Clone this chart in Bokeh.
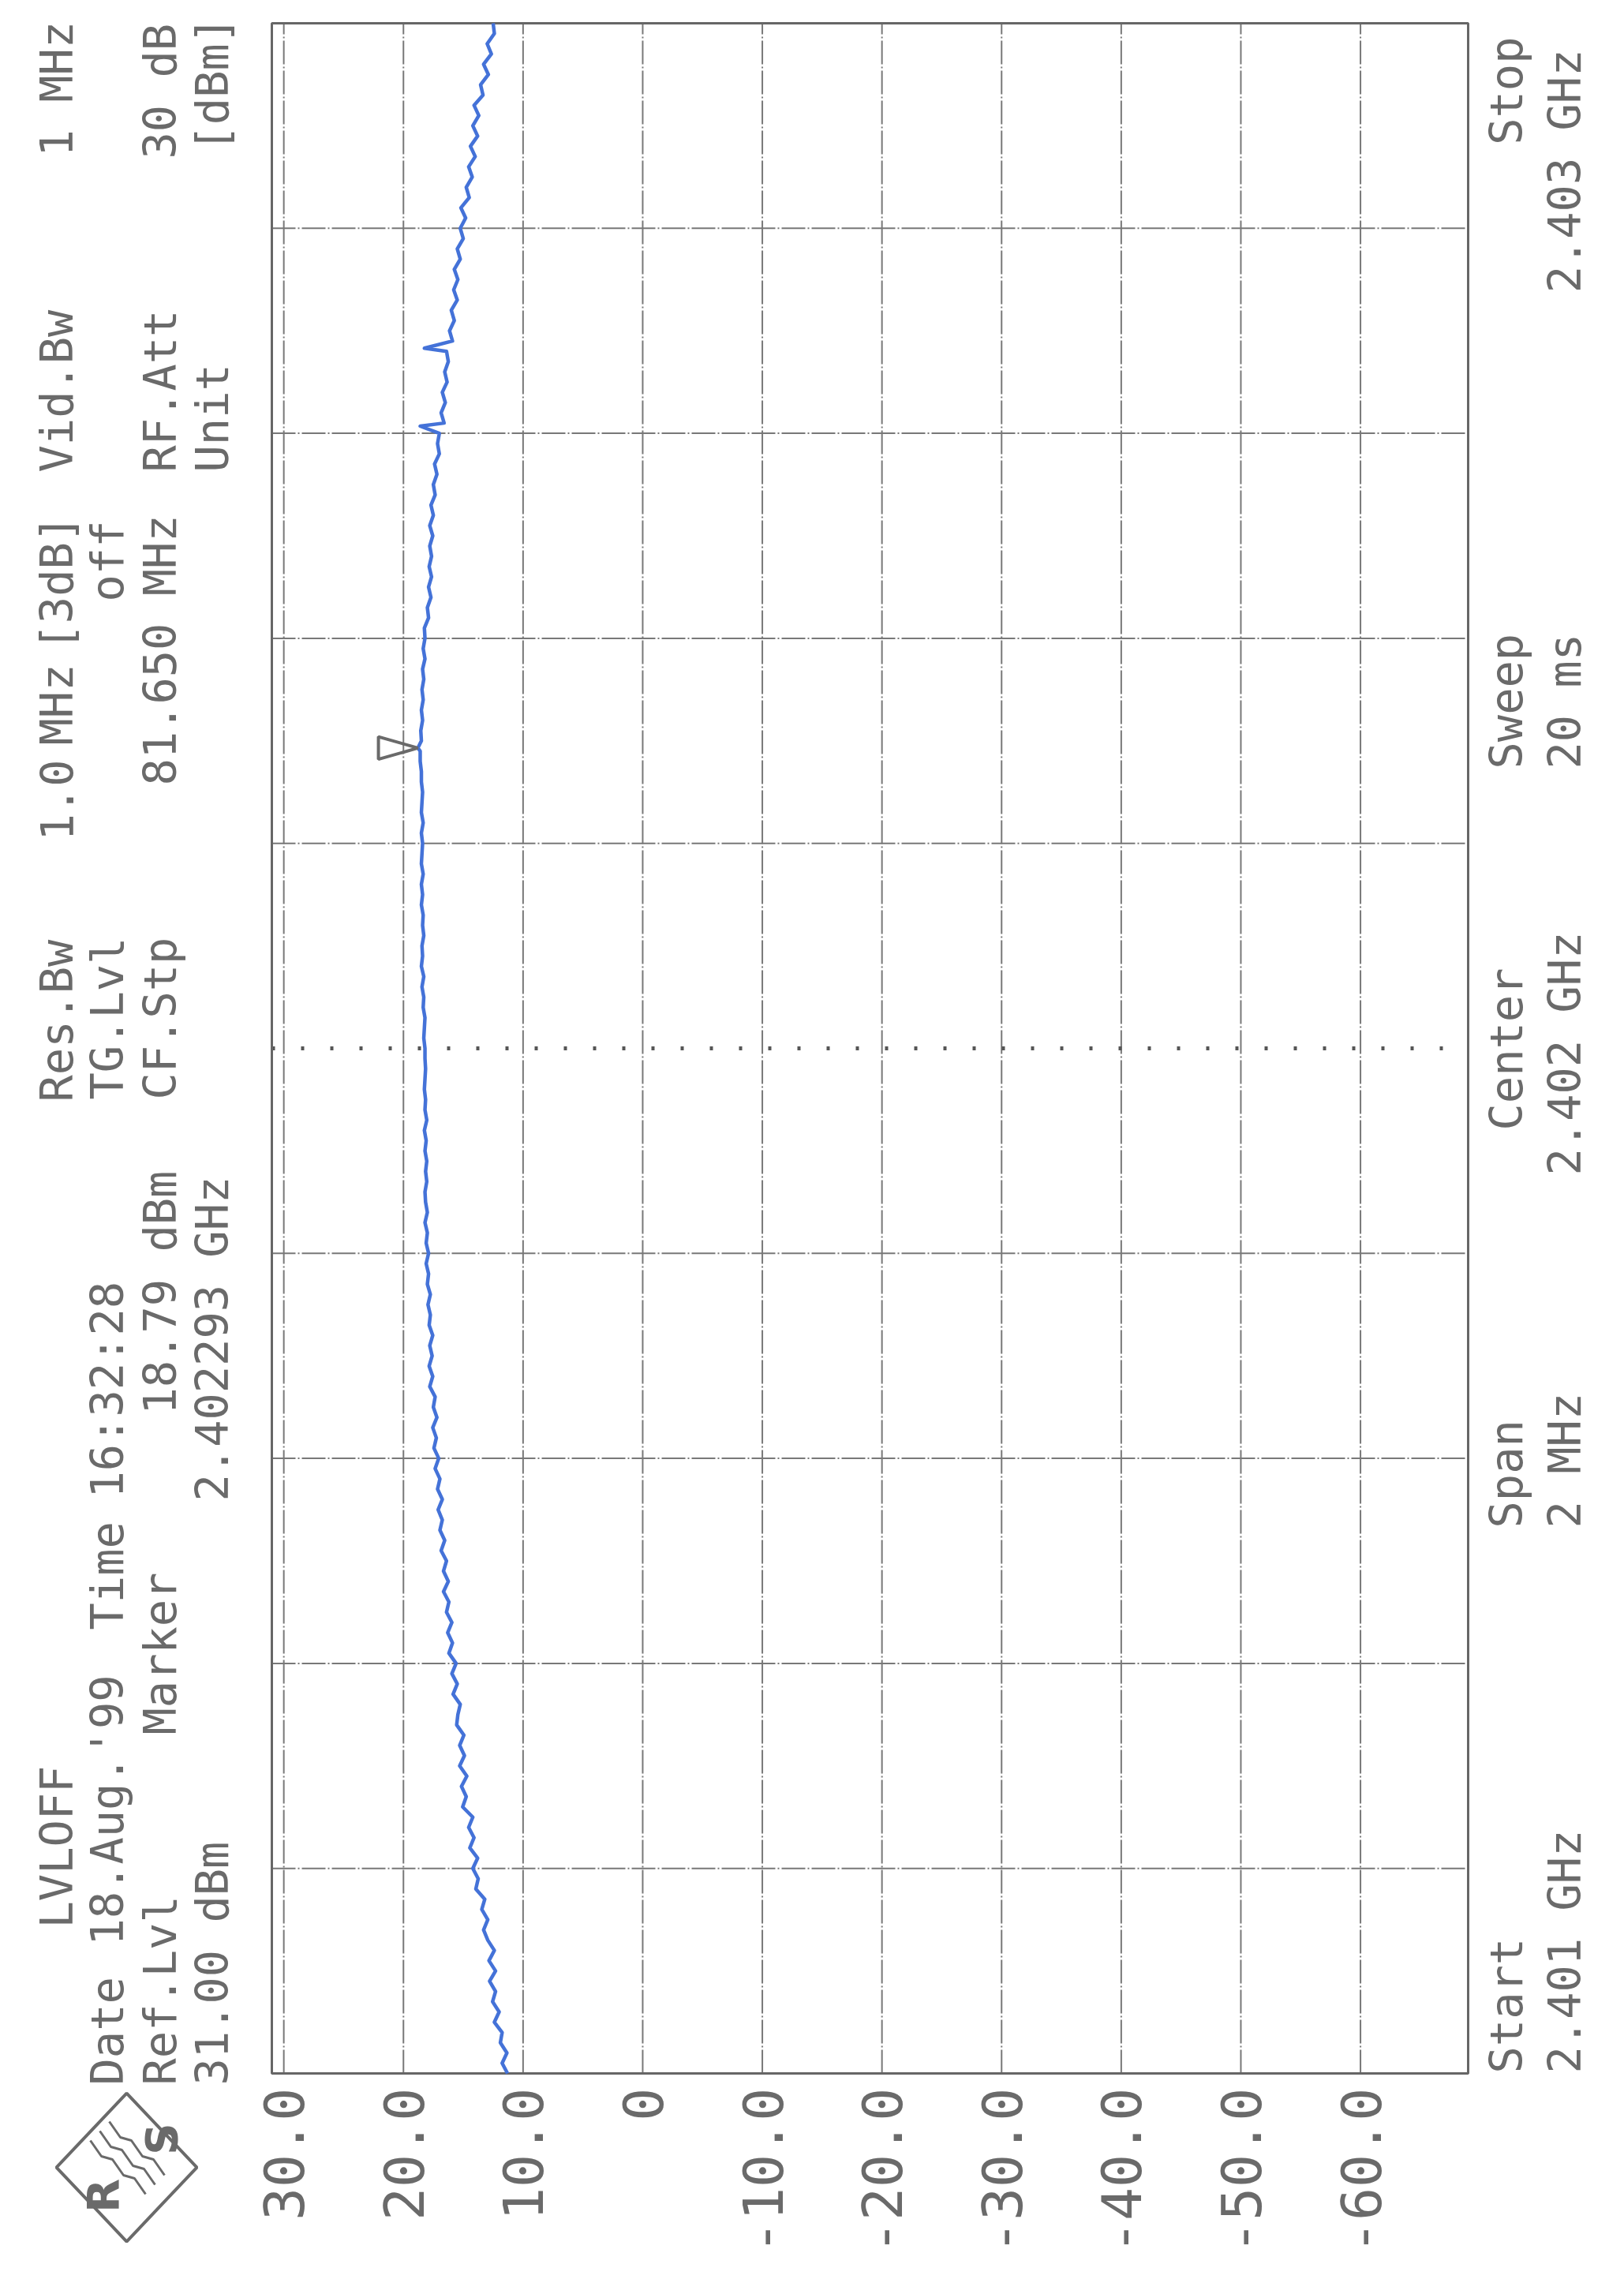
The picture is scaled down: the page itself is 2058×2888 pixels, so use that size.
import numpy as np
from bokeh.plotting import figure
from bokeh.models import Range1d
from bokeh.core.properties import value
from bokeh.embed import file_html
from bokeh.resources import INLINE

# ---------------- data ----------------
f_start = 2401.0   # MHz
f_stop = 2403.0    # MHz
ref_level = 31.0   # dBm (left edge of the screen)
bottom_level = -69.0

trace_levels = [
    11.3, 11.75, 11.35, 11.9, 11.75, 12.4, 12.0, 12.55, 12.3, 12.8,
    12.3, 12.85, 12.4, 12.95, 13.3, 12.95, 13.45, 13.2, 13.95, 13.75,
    14.2, 13.8, 14.45, 14.1, 14.55, 14.2, 15.05, 14.75, 15.15, 14.7,
    15.3, 14.9, 15.3, 14.95, 15.55, 15.45, 15.25, 15.85, 15.5, 15.95,
    15.6, 16.2, 15.9, 16.3, 15.95, 16.4, 16.2, 16.65, 16.25, 16.65,
    16.4, 16.85, 16.55, 16.95, 16.75, 17.1, 16.75, 17.15, 16.95, 17.35,
    17.05, 17.45, 17.25, 17.55, 17.2, 17.5, 17.35, 17.8, 17.55, 17.85,
    17.6, 17.8, 17.55, 17.85, 17.75, 17.95, 17.75, 18.0, 17.9, 18.1,
    17.9, 18.1, 18.0, 18.2, 18.0, 18.15, 18.2, 18.05, 18.15, 18.05,
    18.2, 18.1, 18.25, 18.05, 18.2, 18.15, 18.25, 18.2, 18.15, 18.2,
    18.2, 18.3, 18.25, 18.2, 18.35, 18.3, 18.45, 18.3, 18.5, 18.4,
    18.45, 18.3, 18.4, 18.35, 18.5, 18.4, 18.5, 18.35, 18.5, 18.45,
    18.4, 18.5, 18.35, 18.5, 18.45, 18.4, 18.5, 18.5, 18.6, 18.6,
    18.5, 18.55, 18.4, 18.5, 18.35, 18.45, 18.3, 18.4, 18.2, 18.35,
    18.2, 18.25, 17.9, 18.0, 17.7, 17.9, 17.65, 17.85, 17.65, 17.8,
    17.55, 17.8, 17.5, 17.7, 17.35, 17.5, 17.2, 17.4, 17.0, 17.15,
    17.0, 16.6, 16.85, 16.5, 16.75, 16.35, 16.55, 16.25, 16.4, 15.9,
    16.15, 15.75, 16.0, 15.5, 15.8, 15.45, 15.75, 15.25, 15.5, 15.0,
    15.25, 14.8, 15.2, 14.5, 14.75, 14.25, 14.55, 14.0, 14.4, 13.8,
    14.2, 13.7, 14.1, 13.35, 13.55, 12.9, 13.3, 12.65, 13.0, 12.4, 12.5,
]
spike_freqs = [2402.607, 2402.683]
spike_levels = [18.6, 18.25]
marker_freq = [2402.293]
marker_level = [18.79]

level_ticks = [30, 20, 10, 0, -10, -20, -30, -40, -50, -60]
level_labels = ["30.0", "20.0", "10.0", "0", "-10.0", "-20.0", "-30.0", "-40.0", "-50.0", "-60.0"]
freq_grid = [2401.2, 2401.4, 2401.6, 2401.8, 2402.2, 2402.4, 2402.6, 2402.8]
center_freq = 2402.0

header_texts = [
    "LVLOFF", "Res.Bw", "1.0", "MHz", "[3dB]", "Vid.Bw", "1 MHz",
    "Date", "18.Aug.'99", "Time", "16:32:28", "TG.Lvl", "off",
    "Ref.Lvl", "Marker", "18.79 dBm", "CF.Stp", "81.650 MHz", "RF.Att", "30 dB",
    "31.00 dBm", "2.402293 GHz", "Unit", "[dBm]",
]
footer_texts = ["Start", "2.401 GHz", "Span", "2 MHz", "Center", "2.402 GHz",
                "Sweep", "20 ms", "Stop", "2.403 GHz"]

# ---------------- layout (page pixels) ----------------
W, H = 2042, 2872
PX0, PY0 = 8, 8                 # page margin
FX0, FX1, FY0, FY1 = 352, 1868, 37, 2635   # frame on page (left, right, top, bottom)
row_x = [79, 143, 210, 276]
header_layout = [  # (row, start y on page, align)
    (0, 2451, "left"), (0, 1404, "left"), (0, 1073, "left"), (0, 952, "left"), (0, 832, "left"),
    (0, 606, "left"), (0, 206, "left"),
    (1, 2650, "left"), (1, 2473, "left"), (1, 2073, "left"), (1, 1906, "left"), (1, 1401, "left"),
    (1, 770, "left"),
    (2, 2650, "left"), (2, 2206, "left"), (2, 1800, "left"), (2, 1401, "left"), (2, 1003, "left"),
    (2, 606, "left"), (2, 209, "left"),
    (3, 2650, "left"), (3, 1910, "left"), (3, 606, "left"), (3, 200, "left"),
]
foot_x = [1916, 1990]
footer_layout = [
    (0, 2635, "left"), (1, 2635, "left"),
    (0, 1944, "left"), (1, 1944, "left"),
    (0, 1440, "left"), (1, 1497, "left"),
    (0, 982, "left"), (1, 982, "left"),
    (0, 54, "right"), (1, 70, "right"),
]

GREY = "#6a6a6a"
GRID = "#787878"
FONT = "DejaVu Sans Mono"

px_per_db = (FX1 - FX0) / (ref_level - bottom_level)
px_per_mhz = (FY1 - FY0) / (f_stop - f_start)
x_range = Range1d(ref_level + (FX0 - PX0) / px_per_db, bottom_level - (PX0 + W - FX1) / px_per_db)
y_range = Range1d(f_start - (PY0 + H - FY1) / px_per_mhz, f_stop + (FY0 - PY0) / px_per_mhz)

p = figure(width=W, height=H, output_backend="svg", toolbar_location=None,
           x_range=x_range, y_range=y_range,
           x_axis_location=None, y_axis_location=None,
           min_border=0, min_border_left=0, min_border_right=0,
           min_border_top=0, min_border_bottom=0)
p.extra_x_ranges = {"page": Range1d(PX0, PX0 + W)}
p.extra_y_ranges = {"page": Range1d(PY0 + H, PY0)}
p.outline_line_color = None
p.background_fill_color = "white"
p.border_fill_color = "white"
p.grid.visible = False

# grid lines (vertical at level ticks, horizontal at frequency divisions)
n = len(level_ticks)
p.segment(x0=level_ticks, x1=level_ticks, y0=[f_start] * n, y1=[f_stop] * n,
          line_color=GRID, line_width=2, line_dash="30 3 2 3")
m = len(freq_grid)
p.segment(x0=[ref_level] * m, x1=[bottom_level] * m, y0=freq_grid, y1=freq_grid,
          line_color=GRID, line_width=2, line_dash="30 3 2 3")
# dotted centre line
p.line(x=[ref_level, bottom_level], y=[center_freq, center_freq],
       line_color="#555555", line_width=5, line_dash="4 33")
# screen frame
p.quad(left=[ref_level], right=[bottom_level], bottom=[f_start], top=[f_stop],
       fill_color=None, line_color="#666666", line_width=3)

# level tick labels (below the frame, rotated)
p.text(x=level_ticks, y=[f_start] * n, text=level_labels, angle=np.pi / 2,
       text_align="right", text_baseline="middle", y_offset=18,
       text_font=value(FONT), text_font_size=value("70px"), text_color=GREY)

# trace
freqs = list(np.linspace(f_start, f_stop, len(trace_levels)))
pts = sorted(zip(freqs + spike_freqs + marker_freq, trace_levels + spike_levels + marker_level))
p.line(x=[lv for _, lv in pts], y=[f for f, _ in pts], line_color="#4472d8",
       line_width=4.5, line_join="round")

# marker symbol pointing at the marker position
m_l, m_f = marker_level[0], marker_freq[0]
p.patch(x=[m_l, m_l + 3.3, m_l + 3.3], y=[m_f, m_f + 0.011, m_f - 0.011],
        fill_color=None, line_color=GREY, line_width=4)


def put_texts(texts, layout, xs):
    for al in ("left", "right"):
        sel = [(t, xs[r], y) for t, (r, y, a) in zip(texts, layout) if a == al]
        if not sel:
            continue
        p.text(x=[s[1] for s in sel], y=[s[2] for s in sel], text=[s[0] for s in sel],
               x_range_name="page", y_range_name="page",
               angle=np.pi / 2, text_align=al, text_baseline="middle",
               text_font=value(FONT), text_font_size=value("57px"), text_color=GREY)


put_texts(header_texts, header_layout, row_x)
put_texts(footer_texts, footer_layout, foot_x)

# R&S logo
cx, cy, hw, hh = 168, 2754, 89, 94
p.patch(x=[cx - hw, cx, cx + hw, cx], y=[cy, cy - hh, cy, cy + hh],
        x_range_name="page", y_range_name="page",
        fill_color=None, line_color=GREY, line_width=4)
p.text(x=[138, 212], y=[2790, 2718], text=["R", "S"], angle=np.pi / 2,
       x_range_name="page", y_range_name="page",
       text_align="center", text_baseline="middle", text_font=value("DejaVu Sans"),
       text_font_size=value("56px"), text_font_style="bold", text_color=GREY)
for k in range(3):
    wx = 162 + 12 * k
    wy = 2758 - 12 * k
    p.line(x=[wx - 40, wx - 26, wx - 12, wx + 2, wx + 16, wx + 30],
           y=[wy - 38, wy - 18, wy - 14, wy + 6, wy + 10, wy + 30],
           x_range_name="page", y_range_name="page",
           line_color=GREY, line_width=3)

open("out.html", "w").write(file_html(p, INLINE))
